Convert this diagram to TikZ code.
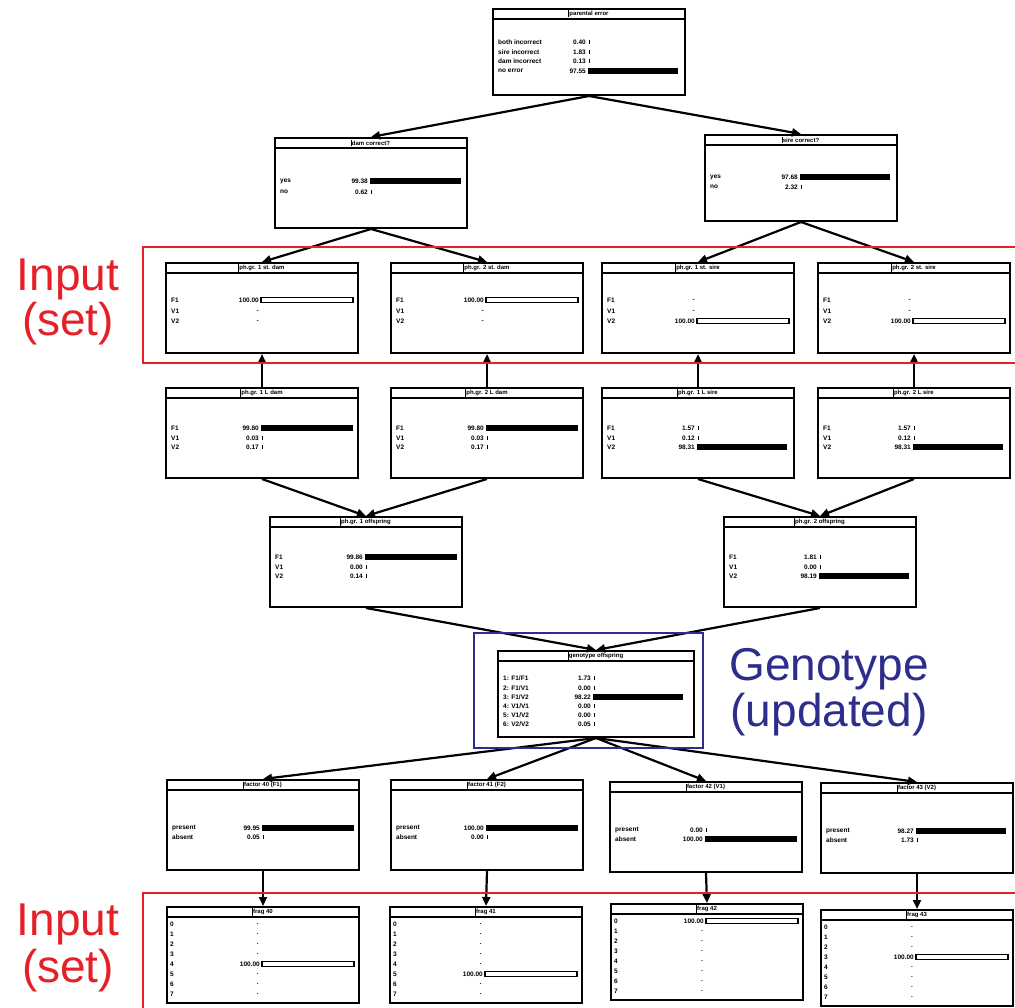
\documentclass[tikz,border=0pt]{standalone}
\usepackage{fontspec}
\setmainfont{Liberation Sans}
\usetikzlibrary{calc,arrows.meta}
\definecolor{inred}{RGB}{230,32,40}
\definecolor{gblue}{RGB}{45,45,140}
\newcommand\pbox[6]{%
 \node[pbox, minimum width=#4pt, minimum height=#5pt] (#1) at (#2,#3) {};
 \draw[tline] ($(#1.north west)+(0,11)$) -- ($(#1.north east)+(0,11)$);
 \node[ttl] (#1t) at ($(#1.north)+(0,6)$) {#6};
 \draw[line width=1pt] (#1t.north west) -- (#1t.south west);
}
\newcommand\prow[4]{%
 \node[lbl] at ($(#1.north west)+(6,#2)$) {#3};
 \node[val] at ($(#1.north west)+(94,#2)$) {#4};
}
\newcommand\fbar[3]{\fill ($(#1.north west)+(96,#2-2.6)$) rectangle ++(#3,5.2);}
\newcommand\obar[3]{\draw[line width=1.2pt, fill=white] ($(#1.north west)+(96,#2-2.4)$) rectangle ++(#3,4.8);}
\newcommand\tck[2]{\draw[line width=1pt] ($(#1.north west)+(97,#2-2)$) -- ++(0,4);}
\begin{document}
\begin{tikzpicture}[x=1pt,y=-1pt,
 pbox/.style={draw, line width=2pt, fill=white, inner sep=0pt, anchor=north west},
 tline/.style={line width=1.3pt},
 ttl/.style={font=\fontsize{6}{7}\selectfont\bfseries, inner sep=0.5pt},
 lbl/.style={font=\fontsize{6.5}{7}\selectfont\bfseries, anchor=west, inner sep=0pt},
 val/.style={font=\fontsize{6.5}{7}\selectfont\bfseries, anchor=east, inner sep=0pt},
 conn/.style={line width=2.2pt, -{Triangle[length=9pt,width=8pt]}},
 big/.style={font=\fontsize{46}{50}\selectfont, anchor=base, inner sep=0pt}
]
\useasboundingbox (0,0) rectangle (1015,1008);
\clip (0,0) rectangle (1015,1008);
\fill[white] (0,0) rectangle (1015,1008);

% parental error
\pbox{pe}{492}{8}{192}{86}{parental error}
\prow{pe}{34}{both incorrect}{0.40}\tck{pe}{34}
\prow{pe}{44}{sire incorrect}{1.83}\tck{pe}{44}
\prow{pe}{53}{dam incorrect}{0.13}\tck{pe}{53}
\prow{pe}{63}{no error}{97.55}\fbar{pe}{63}{89.7}

% dam / sire correct
\pbox{dc}{274}{137}{192}{90}{dam correct?}
\prow{dc}{44}{yes}{99.38}\fbar{dc}{44}{91.4}
\prow{dc}{55}{no}{0.62}\tck{dc}{55}
\pbox{sc}{704}{134}{192}{86}{sire correct?}
\prow{sc}{43}{yes}{97.68}\fbar{sc}{43}{89.9}
\prow{sc}{53}{no}{2.32}\tck{sc}{53}

% st. boxes (input)
\pbox{sa}{165}{262}{192}{90}{ph.gr. 1 st. dam}
\prow{sa}{38}{F1}{100.00}\obar{sa}{38}{92}
\prow{sa}{49}{V1}{-}
\prow{sa}{59}{V2}{-}
\pbox{sb}{390}{262}{192}{90}{ph.gr. 2 st. dam}
\prow{sb}{38}{F1}{100.00}\obar{sb}{38}{92}
\prow{sb}{49}{V1}{-}
\prow{sb}{59}{V2}{-}
\pbox{sc3}{601}{262}{192}{90}{ph.gr. 1 st. sire}
\prow{sc3}{38}{F1}{-}
\prow{sc3}{49}{V1}{-}
\prow{sc3}{59}{V2}{100.00}\obar{sc3}{59}{92}
\pbox{sd}{817}{262}{192}{90}{ph.gr. 2 st. sire}
\prow{sd}{38}{F1}{-}
\prow{sd}{49}{V1}{-}
\prow{sd}{59}{V2}{100.00}\obar{sd}{59}{92}

% L boxes
\pbox{la}{165}{387}{192}{90}{ph.gr. 1 L dam}
\prow{la}{41}{F1}{99.80}\fbar{la}{41}{91.8}
\prow{la}{51}{V1}{0.03}\tck{la}{51}
\prow{la}{60}{V2}{0.17}\tck{la}{60}
\pbox{lb}{390}{387}{192}{90}{ph.gr. 2 L dam}
\prow{lb}{41}{F1}{99.80}\fbar{lb}{41}{91.8}
\prow{lb}{51}{V1}{0.03}\tck{lb}{51}
\prow{lb}{60}{V2}{0.17}\tck{lb}{60}
\pbox{lc}{601}{387}{192}{90}{ph.gr. 1 L sire}
\prow{lc}{41}{F1}{1.57}\tck{lc}{41}
\prow{lc}{51}{V1}{0.12}\tck{lc}{51}
\prow{lc}{60}{V2}{98.31}\fbar{lc}{60}{90.4}
\pbox{ld}{817}{387}{192}{90}{ph.gr. 2 L sire}
\prow{ld}{41}{F1}{1.57}\tck{ld}{41}
\prow{ld}{51}{V1}{0.12}\tck{ld}{51}
\prow{ld}{60}{V2}{98.31}\fbar{ld}{60}{90.4}

% offspring
\pbox{oa}{269}{516}{192}{90}{ph.gr. 1 offspring}
\prow{oa}{41}{F1}{99.86}\fbar{oa}{41}{91.9}
\prow{oa}{51}{V1}{0.00}\tck{oa}{51}
\prow{oa}{60}{V2}{0.14}\tck{oa}{60}
\pbox{ob}{723}{516}{192}{90}{ph.gr. 2 offspring}
\prow{ob}{41}{F1}{1.81}\tck{ob}{41}
\prow{ob}{51}{V1}{0.00}\tck{ob}{51}
\prow{ob}{60}{V2}{98.19}\fbar{ob}{60}{90.3}

% genotype
\pbox{g}{497}{650}{196}{86}{genotype offspring}
\prow{g}{28}{1: F1/F1}{1.73}\tck{g}{28}
\prow{g}{38}{2: F1/V1}{0.00}\tck{g}{38}
\prow{g}{47}{3: F1/V2}{98.22}\fbar{g}{47}{90.4}
\prow{g}{56}{4: V1/V1}{0.00}\tck{g}{56}
\prow{g}{65}{5: V1/V2}{0.00}\tck{g}{65}
\prow{g}{74}{6: V2/V2}{0.05}\tck{g}{74}

% factors
\pbox{fa}{166}{779}{192}{90}{factor 40 (F1)}
\prow{fa}{49}{present}{99.95}\fbar{fa}{49}{92}
\prow{fa}{58}{absent}{0.05}\tck{fa}{58}
\pbox{fb}{390}{779}{192}{90}{factor 41 (F2)}
\prow{fb}{49}{present}{100.00}\fbar{fb}{49}{92}
\prow{fb}{58}{absent}{0.00}\tck{fb}{58}
\pbox{fc}{609}{781}{192}{90}{factor 42 (V1)}
\prow{fc}{49}{present}{0.00}\tck{fc}{49}
\prow{fc}{58}{absent}{100.00}\fbar{fc}{58}{92}
\pbox{fd}{820}{782}{192}{90}{factor 43 (V2)}
\prow{fd}{49}{present}{98.27}\fbar{fd}{49}{90.4}
\prow{fd}{58}{absent}{1.73}\tck{fd}{58}

% frag boxes
\pbox{ra}{166}{906}{192}{96}{frag 40}
\pbox{rb}{389}{906}{192}{96}{frag 41}
\pbox{rc}{610}{903}{192}{96}{frag 42}
\pbox{rd}{820}{909}{192}{96}{frag 43}
\foreach \b/\s in {ra/4,rb/5,rc/0,rd/3}{
  \foreach \i in {0,...,7}{
    \pgfmathsetmacro\dy{18+10*\i}
    \node[lbl] at ($(\b.north west)+(4,\dy)$) {\i};
    \ifnum\i=\s
      \node[val] at ($(\b.north west)+(94,\dy)$) {100.00};
      \draw[line width=1.2pt, fill=white] ($(\b.north west)+(96,\dy-2.4)$) rectangle ++(92,4.8);
    \else
      \node[val] at ($(\b.north west)+(93,\dy)$) {.};
    \fi
  }
}

% connectors
\draw[conn] (pe.south) -- (dc.north);
\draw[conn] (pe.south) -- (sc.north);
\draw[conn] (dc.south) -- (sa.north);
\draw[conn] (dc.south) -- (sb.north);
\draw[conn] (sc.south) -- (sc3.north);
\draw[conn] (sc.south) -- (sd.north);
\draw[conn] (la.north) -- (sa.south);
\draw[conn] (lb.north) -- (sb.south);
\draw[conn] (lc.north) -- (sc3.south);
\draw[conn] (ld.north) -- (sd.south);
\draw[conn] (la.south) -- (oa.north);
\draw[conn] (lb.south) -- (oa.north);
\draw[conn] (lc.south) -- (ob.north);
\draw[conn] (ld.south) -- (ob.north);
\draw[conn] (oa.south) -- (g.north);
\draw[conn] (ob.south) -- (g.north);
\draw[conn] (g.south) -- (fa.north);
\draw[conn] (g.south) -- (fb.north);
\draw[conn] (g.south) -- (fc.north);
\draw[conn] (g.south) -- (fd.north);
\draw[conn] (fa.south) -- (ra.north);
\draw[conn] (fb.south) -- (rb.north);
\draw[conn] (fc.south) -- (rc.north);
\draw[conn] (fd.south) -- (rd.north);

% highlight frames
\draw[inred, line width=2pt] (143,247) rectangle (1030,363);
\draw[inred, line width=2pt] (143,893) rectangle (1030,1030);
\draw[gblue, line width=1.5pt] (474,633) rectangle (703,748);

% big labels
\node[big, text=inred] (in1) at (68,291) {Input};
\node[big, text=inred] (set1) at (68,336) {(set)};
\node[big, text=inred] (in2) at (68,935) {Input};
\node[big, text=inred] (set2) at (68,982) {(set)};
\node[big, text=gblue] (gt) at (829,680) {Genotype};
\node[big, text=gblue] (up) at (829,726) {(updated)};
\end{tikzpicture}
\end{document}
